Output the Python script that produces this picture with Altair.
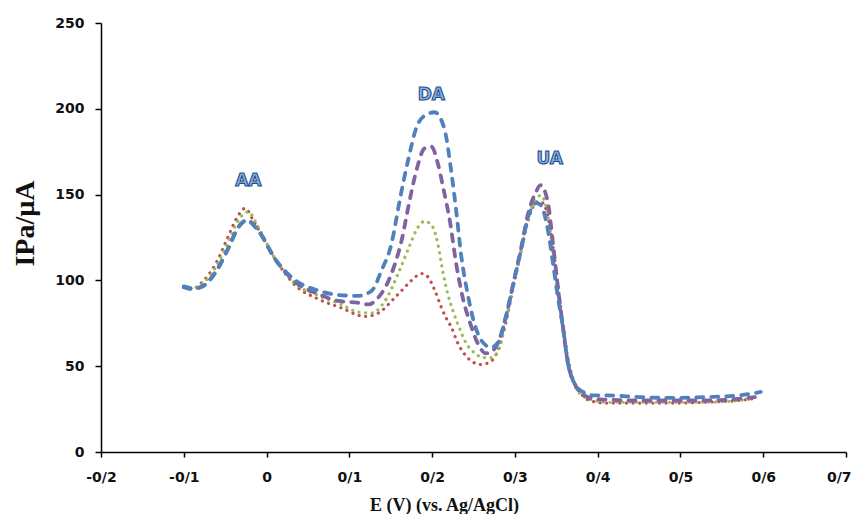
import altair as alt
import pandas as pd

# ---- data ----
blue_x = [-0.10, -0.09, -0.08, -0.06, -0.046, -0.034, -0.024, -0.01, 0.011, 0.035, 0.063, 0.087, 0.111, 0.127,
          0.139, 0.151, 0.161, 0.171, 0.181, 0.191, 0.203, 0.215, 0.223, 0.229, 0.235, 0.243, 0.251, 0.261,
          0.271, 0.28, 0.289, 0.298, 0.308, 0.316, 0.326, 0.331, 0.34, 0.346, 0.352, 0.358, 0.364, 0.372,
          0.384, 0.396, 0.41, 0.45, 0.49, 0.53, 0.57, 0.597]
blue_y = [96.5, 95.5, 96, 106, 119, 131, 135, 129, 112, 100, 94, 91.5, 91, 94,
          106, 121.5, 147, 170, 189, 196, 198, 188, 164, 141, 115, 92, 75, 64,
          61, 64, 78.5, 98, 119, 137, 145, 144, 129, 110, 90, 73, 52, 40,
          34.5, 33, 33, 32, 31.5, 32, 33, 35]

purple_x = [-0.10, -0.09, -0.08, -0.06, -0.046, -0.034, -0.024, -0.01, 0.011, 0.035, 0.063, 0.087, 0.11, 0.123,
            0.135, 0.151, 0.163, 0.173, 0.181, 0.191, 0.199, 0.207, 0.213, 0.222, 0.229, 0.237, 0.246, 0.255,
            0.265, 0.273, 0.28, 0.289, 0.298, 0.308, 0.316, 0.325, 0.331, 0.34, 0.346, 0.352, 0.358, 0.364,
            0.372, 0.384, 0.396, 0.41, 0.45, 0.49, 0.53, 0.57, 0.59]
purple_y = [96, 95, 96, 106, 119, 131, 135, 129, 112, 99, 92, 88, 87, 86,
            90, 104, 123, 147, 164, 177, 178, 168, 155, 133, 110, 90, 75, 63.5,
            57.5, 59, 64, 78.5, 98, 120, 139, 151, 155.5, 145, 121.5, 96, 73, 52,
            40, 33, 31, 30.5, 30, 30, 30, 31, 32]

green_x = [-0.10, -0.09, -0.08, -0.06, -0.046, -0.034, -0.022, -0.01, 0.011, 0.035, 0.063, 0.09, 0.111, 0.127,
           0.143, 0.159, 0.171, 0.183, 0.191, 0.201, 0.207, 0.213, 0.219, 0.225, 0.234, 0.241, 0.252, 0.261,
           0.271, 0.28, 0.289, 0.298, 0.308, 0.316, 0.325, 0.331, 0.34, 0.346, 0.352, 0.358, 0.364, 0.372,
           0.384, 0.396, 0.41, 0.45, 0.49, 0.53, 0.57, 0.587]
green_y = [96, 95, 97, 109, 123, 135, 140, 131, 112, 98, 91, 86, 81.5, 81,
           88, 104, 118, 131, 134.5, 131, 121, 105, 92, 82.5, 71, 63.5, 57.5, 55,
           55, 59, 77, 97, 119, 137, 147, 149.5, 138, 115, 92, 72, 52, 39,
           32, 30, 29, 29, 29, 29, 30, 31]

red_x = [-0.10, -0.09, -0.08, -0.06, -0.046, -0.034, -0.026, -0.015, 0.011, 0.035, 0.063, 0.09, 0.119, 0.135,
         0.155, 0.171, 0.181, 0.188, 0.195, 0.203, 0.211, 0.217, 0.223, 0.231, 0.24, 0.249, 0.259, 0.27,
         0.277, 0.289, 0.298, 0.308, 0.316, 0.328, 0.334, 0.342, 0.35, 0.356, 0.362, 0.37, 0.38, 0.39,
         0.41, 0.45, 0.49, 0.53, 0.57, 0.587]
red_y = [96, 95, 98, 111, 126, 138, 142, 134, 112, 97, 89, 84, 79, 81,
         90, 98, 102.5, 104, 102, 94.5, 84.5, 78, 73, 63.5, 56.5, 52.5, 51, 52.5,
         56.5, 75, 96, 118, 135, 146, 145, 132, 105, 82, 60, 43, 34, 30,
         28.5, 28.5, 28.5, 29, 30, 31]

labels = ["AA", "DA", "UA"]
label_x = [-0.022, 0.199, 0.342]
label_y = [158, 208, 171]

x_ticks = [-0.2, -0.1, 0.0, 0.1, 0.2, 0.3, 0.4, 0.5, 0.6, 0.7]
y_ticks = [0, 50, 100, 150, 200, 250]

x_scale = alt.Scale(domain=[-0.2, 0.7], nice=False, zero=False)
y_scale = alt.Scale(domain=[0, 250], nice=False)

x_axis = alt.Axis(
    values=x_ticks, title="E (V) (vs. Ag/AgCl)", grid=False, labelFlush=False, labelOverlap=False,
    labelExpr="(datum.value < -0.0001 ? '-' : '') + replace(format(abs(datum.value), '.1~f'), '.', '/')",
    labelAlign={"condition": {"test": "datum.value > 0.65", "value": "right"}, "value": "center"},
    labelOffset={"condition": {"test": "datum.value > 0.65", "value": 5}, "value": 0},
    labelFont="DejaVu Sans", labelFontWeight="bold", labelFontSize=14, labelColor="#111111",
    labelPadding=13, tickSize=5, tickColor="#000000", domainColor="#000000", domainWidth=1.5, tickWidth=1.5,
    titleFont="Liberation Serif", titleFontWeight="bold", titleFontSize=18, titleColor="#111111",
    titleX=343, titleY=53, titleBaseline="middle", titleAnchor="middle",
)
y_axis = alt.Axis(
    values=y_ticks, title="IPa/µA", grid=False,
    labelFont="DejaVu Sans", labelFontWeight="bold", labelFontSize=14, labelColor="#111111",
    labelPadding=11, tickSize=6, tickColor="#000000", domainColor="#000000", domainWidth=1.5, tickWidth=1.5,
    titleFont="Liberation Serif", titleFontWeight="bold", titleFontSize=28, titleColor="#111111",
    titleX=-76, titleY=200, titleBaseline="middle", titleAngle=-90, titleAnchor="middle",
)


def series(xs, ys, color, dash, width):
    df = pd.DataFrame({"x": xs, "y": ys})
    return alt.Chart(df).mark_line(
        color=color, strokeDash=dash, strokeWidth=width, strokeCap="round", interpolate="monotone"
    ).encode(
        x=alt.X("x:Q", scale=x_scale, axis=x_axis),
        y=alt.Y("y:Q", scale=y_scale, axis=y_axis),
    )


red = series(red_x, red_y, "#C0504D", [0.1, 6.5], 3.2)
green = series(green_x, green_y, "#9BBB59", [0.1, 6.5], 3.2)
purple = series(purple_x, purple_y, "#8064A2", [7, 8], 3.8)
blue = series(blue_x, blue_y, "#4F81BD", [7, 8], 3.8)

ann = alt.Chart(pd.DataFrame({"t": labels, "x": label_x, "y": label_y})).mark_text(
    font="DejaVu Sans", fontWeight="bold", fontSize=17, fill="#8DB3E2", stroke="#1F4E8C", strokeWidth=1.1
).encode(
    x=alt.X("x:Q", scale=x_scale, axis=x_axis),
    y=alt.Y("y:Q", scale=y_scale, axis=y_axis),
    text="t:N",
)

chart = alt.layer(red, green, purple, blue, ann).properties(
    width=745, height=429,
    autosize=alt.AutoSizeParams(type="none"),
    padding={"left": 93, "top": 15, "right": 6, "bottom": 62},
    background="#ffffff",
).configure_view(stroke=None)

chart.save("out.html", embed_options={"renderer": "svg", "actions": False})
